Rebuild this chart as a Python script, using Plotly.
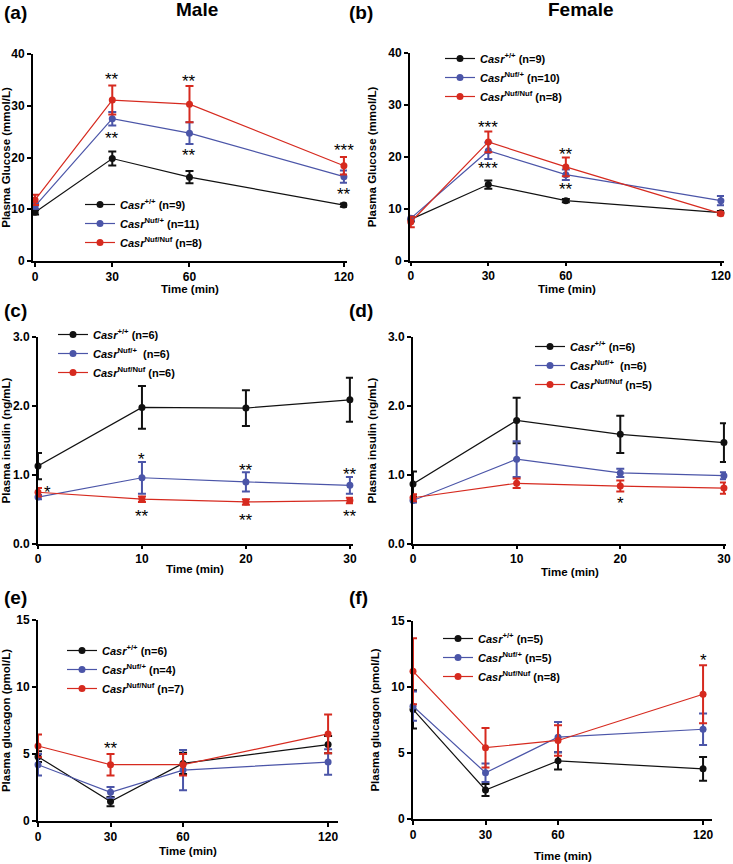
import plotly.graph_objects as go

W, H = 733, 864
BLACK = "#111111"
BLUE = "#4b55a8"
RED = "#d62a1f"
FONT = "Liberation Sans"

# ---- data ----
glucose_time = [0, 30, 60, 120]
insulin_time = [0, 10, 20, 30]
glucagon_time = [0, 30, 60, 120]

# (a) male glucose
gluc_m_wt = [9.4, 19.8, 16.2, 10.8]
gluc_m_wt_err = [0.4, 1.35, 1.2, 0.3]
gluc_m_het = [10.6, 27.5, 24.7, 16.3]
gluc_m_het_err = [0.5, 1.3, 2.1, 1.2]
gluc_m_hom = [11.8, 31.1, 30.3, 18.4]
gluc_m_hom_err = [1.0, 2.8, 3.5, 1.7]

# (b) female glucose
gluc_f_wt = [8.0, 14.7, 11.6, 9.3]
gluc_f_wt_err = [0.4, 0.8, 0.3, 0.3]
gluc_f_het = [8.2, 21.2, 16.6, 11.6]
gluc_f_het_err = [0.4, 1.6, 1.0, 0.9]
gluc_f_hom = [7.5, 22.9, 18.1, 9.1]
gluc_f_hom_err = [1.0, 2.0, 1.8, 0.3]

# (c) male insulin
ins_m_wt = [1.13, 1.98, 1.97, 2.09]
ins_m_wt_err = [0.19, 0.31, 0.26, 0.32]
ins_m_het = [0.68, 0.96, 0.90, 0.85]
ins_m_het_err = [0.03, 0.23, 0.14, 0.12]
ins_m_hom = [0.75, 0.65, 0.61, 0.63]
ins_m_hom_err = [0.06, 0.04, 0.04, 0.04]

# (d) female insulin
ins_f_wt = [0.87, 1.79, 1.59, 1.47]
ins_f_wt_err = [0.18, 0.33, 0.27, 0.28]
ins_f_het = [0.63, 1.23, 1.03, 0.99]
ins_f_het_err = [0.03, 0.26, 0.06, 0.05]
ins_f_hom = [0.67, 0.88, 0.84, 0.81]
ins_f_hom_err = [0.05, 0.07, 0.08, 0.08]

# (e) male glucagon
glcg_m_wt = [4.8, 1.45, 4.3, 5.7]
glcg_m_wt_err = [0.4, 0.35, 0.8, 0.65]
glcg_m_het = [4.2, 2.14, 3.8, 4.4]
glcg_m_het_err = [0.8, 0.4, 1.5, 0.95]
glcg_m_hom = [5.6, 4.2, 4.2, 6.5]
glcg_m_hom_err = [0.85, 0.8, 0.8, 1.45]

# (f) female glucagon
glcg_f_wt = [8.3, 2.2, 4.4, 3.8]
glcg_f_wt_err = [1.45, 0.45, 0.65, 0.9]
glcg_f_het = [8.55, 3.5, 6.2, 6.8]
glcg_f_het_err = [1.1, 0.7, 1.15, 1.2]
glcg_f_hom = [11.2, 5.4, 5.95, 9.45]
glcg_f_hom_err = [2.5, 1.5, 1.15, 2.2]

legend_a = ["<i>Casr</i><sup>+/+</sup> (n=9)", "<i>Casr</i><sup>Nuf/+</sup> (n=11)", "<i>Casr</i><sup>Nuf/Nuf</sup> (n=8)"]
legend_b = ["<i>Casr</i><sup>+/+</sup> (n=9)", "<i>Casr</i><sup>Nuf/+</sup> (n=10)", "<i>Casr</i><sup>Nuf/Nuf</sup> (n=8)"]
legend_c = ["<i>Casr</i><sup>+/+</sup> (n=6)", "<i>Casr</i><sup>Nuf/+</sup>  (n=6)", "<i>Casr</i><sup>Nuf/Nuf</sup> (n=6)"]
legend_d = ["<i>Casr</i><sup>+/+</sup> (n=6)", "<i>Casr</i><sup>Nuf/+</sup>  (n=6)", "<i>Casr</i><sup>Nuf/Nuf</sup> (n=5)"]
legend_e = ["<i>Casr</i><sup>+/+</sup> (n=6)", "<i>Casr</i><sup>Nuf/+</sup> (n=4)", "<i>Casr</i><sup>Nuf/Nuf</sup> (n=7)"]
legend_f = ["<i>Casr</i><sup>+/+</sup> (n=5)", "<i>Casr</i><sup>Nuf/+</sup> (n=5)", "<i>Casr</i><sup>Nuf/Nuf</sup> (n=8)"]

stars_a = [(30, 35.8, "**"), (30, 24.4, "**"), (60, 35.5, "**"), (60, 21.1, "**"),
           (120, 22.1, "***"), (120, 13.6, "**")]
stars_b = [(30, 26.5, "***"), (30, 18.5, "***"), (60, 21.3, "**"), (60, 14.6, "**")]
stars_c = [(0.9, 0.80, "*"), (10, 1.28, "*"), (10, 0.45, "**"), (20, 1.13, "**"),
           (20, 0.40, "**"), (30, 1.06, "**"), (30, 0.45, "**")]
stars_d = [(20, 0.65, "*")]
stars_e = [(30, 5.7, "**")]
stars_f = [(120, 12.3, "*")]

# panel layout in pixels: plot box (left, right, top, bottom), x range, y range,
# legend corner, x-title centre
panels = [
    dict(t=glucose_time, s=[(gluc_m_wt, gluc_m_wt_err), (gluc_m_het, gluc_m_het_err), (gluc_m_hom, gluc_m_hom_err)],
         names=legend_a, stars=stars_a, box=(33, 347, 54, 261), xr=[-0.8, 121.2], yr=[0, 40], dtick=10,
         ytitle="Plasma Glucose (mmol/L)", leg=(80, 190), xtitle=(190, 289), tickfmt=None, ticklen=4),
    dict(t=glucose_time, s=[(gluc_f_wt, gluc_f_wt_err), (gluc_f_het, gluc_f_het_err), (gluc_f_hom, gluc_f_hom_err)],
         names=legend_b, stars=stars_b, box=(410, 724, 53, 261), xr=[-0.3, 121.2], yr=[0, 40], dtick=10,
         ytitle="Plasma Glucose (mmol/L)", leg=(440, 44), xtitle=(567, 289), tickfmt=None, ticklen=3),
    dict(t=insulin_time, s=[(ins_m_wt, ins_m_wt_err), (ins_m_het, ins_m_het_err), (ins_m_hom, ins_m_hom_err)],
         names=legend_c, stars=stars_c, box=(38, 353, 337, 544), xr=[0, 30.3], yr=[0, 3], dtick=1,
         ytitle="Plasma insulin (ng/mL)", leg=(53, 320), xtitle=(195, 569), tickfmt=".1f", ticklen=3),
    dict(t=insulin_time, s=[(ins_f_wt, ins_f_wt_err), (ins_f_het, ins_f_het_err), (ins_f_hom, ins_f_hom_err)],
         names=legend_d, stars=stars_d, box=(413, 726, 337, 544), xr=[0, 30.2], yr=[0, 3], dtick=1,
         ytitle="Plasma insulin (ng/mL)", leg=(530, 332), xtitle=(570, 572), tickfmt=".1f", ticklen=3),
    dict(t=glucagon_time, s=[(glcg_m_wt, glcg_m_wt_err), (glcg_m_het, glcg_m_het_err), (glcg_m_hom, glcg_m_hom_err)],
         names=legend_e, stars=stars_e, box=(38, 338, 620, 821), xr=[0, 124.1], yr=[0, 15], dtick=5,
         ytitle="Plasma glucagon (pmol/L)", leg=(62, 636), xtitle=(188, 851), tickfmt=None, ticklen=4),
    dict(t=glucagon_time, s=[(glcg_f_wt, glcg_f_wt_err), (glcg_f_het, glcg_f_het_err), (glcg_f_hom, glcg_f_hom_err)],
         names=legend_f, stars=stars_f, box=(413, 712, 621, 819), xr=[0, 123.7], yr=[0, 15], dtick=5,
         ytitle="Plasma glucagon (pmol/L)", leg=(438, 624), xtitle=(563, 856), tickfmt=None, ticklen=4),
]

colors = [BLACK, BLUE, RED]

fig = go.Figure()
layout = {}
annotations = []

for i, p in enumerate(panels, start=1):
    sfx = "" if i == 1 else str(i)
    leg_name = "legend" + sfx
    for k, (vals, errs) in enumerate(p["s"]):
        fig.add_trace(go.Scatter(
            x=p["t"], y=vals, mode="lines+markers", name=p["names"][k],
            xaxis="x" + sfx, yaxis="y" + sfx, legend=leg_name,
            line=dict(color=colors[k], width=1.2),
            marker=dict(color=colors[k], size=7),
            error_y=dict(type="data", array=errs, visible=True, color=colors[k], thickness=2, width=4),
            cliponaxis=False,
        ))
    l, r, t, b = p["box"]
    axis_common = dict(showline=True, linewidth=2, linecolor="black", ticks="outside",
                       tickwidth=2, tickcolor="black", showgrid=False, zeroline=False,
                       automargin=False, ticklabeloverflow="allow",
                       tickfont=dict(size=12, family=FONT, color="black", weight="bold"))
    layout["xaxis" + sfx] = dict(domain=[l / W, r / W], range=p["xr"], anchor="y" + sfx,
                                 tickvals=p["t"], ticklen=p["ticklen"], **axis_common)
    layout["yaxis" + sfx] = dict(domain=[1 - b / H, 1 - t / H], range=p["yr"], anchor="x" + sfx,
                                 dtick=p["dtick"], tickformat=p["tickfmt"], ticklen=4,
                                 title=dict(text=p["ytitle"], standoff=9,
                                            font=dict(size=11.5, family=FONT, color="black", weight="bold")),
                                 **axis_common)
    lx, ly = p["leg"]
    layout[leg_name] = dict(x=lx / W, y=1 - ly / H, xanchor="left", yanchor="top",
                            bgcolor="rgba(0,0,0,0)", tracegroupgap=0, itemwidth=30,
                            font=dict(size=11, family=FONT, color="black", weight="bold"))
    for sx, sy, txt in p["stars"]:
        annotations.append(dict(x=sx, y=sy, xref="x" + sfx, yref="y" + sfx, text=txt, showarrow=False,
                                yshift=-4, font=dict(size=17, family=FONT, color="black")))
    tx, ty = p["xtitle"]
    annotations.append(dict(x=tx / W, y=1 - ty / H, xref="paper", yref="paper", text="Time (min)",
                            showarrow=False, xanchor="center", yanchor="middle",
                            font=dict(size=11.5, family=FONT, color="black", weight="bold")))

# panel letters and headers
panel_letters = ["(a)", "(b)", "(c)", "(d)", "(e)", "(f)"]
letter_pos = [(2, 13), (347, 13), (2, 310), (347, 310), (2, 597), (347, 597)]
for txt, (px, py) in zip(panel_letters, letter_pos):
    annotations.append(dict(x=px / W, y=1 - py / H, xref="paper", yref="paper", text=txt, showarrow=False,
                            xanchor="left", yanchor="middle",
                            font=dict(size=19, family=FONT, color="black", weight="bold")))
for txt, px in [("Male", 197), ("Female", 580)]:
    annotations.append(dict(x=px / W, y=1 - 10 / H, xref="paper", yref="paper", text=txt, showarrow=False,
                            xanchor="center", yanchor="middle",
                            font=dict(size=19, family=FONT, color="black", weight="bold")))

fig.update_layout(width=W, height=H, margin=dict(l=0, r=0, t=0, b=0),
                  plot_bgcolor="white", paper_bgcolor="white",
                  font=dict(family=FONT, color="black"),
                  annotations=annotations, showlegend=True, **layout)

fig.write_html("out.html", config={"displayModeBar": False},
               post_script="document.body.style.margin='0';document.body.style.overflow='hidden';")
